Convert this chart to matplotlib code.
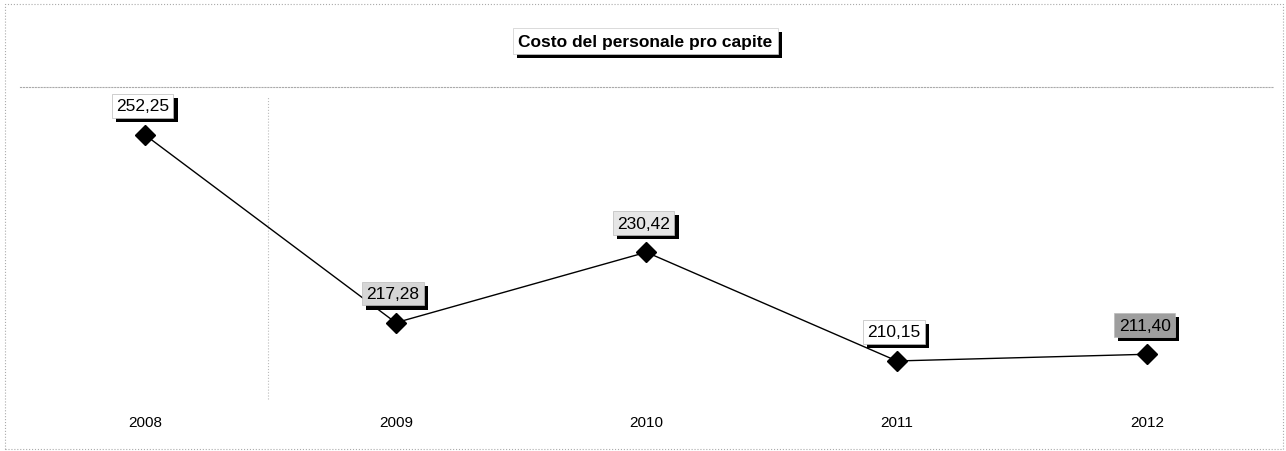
import numpy as np
import matplotlib
matplotlib.use("Agg")
import matplotlib.pyplot as plt
import matplotlib.patheffects as pe

# data
anni = ["2008", "2009", "2010", "2011", "2012"]
costo = [252.25, 217.28, 230.42, 210.15, 211.40]
etichette = ["252,25", "217,28", "230,42", "210,15", "211,40"]
sfondi = ["#ffffff", "#d6d6d6", "#e6e6e6", "#ffffff", "#9e9e9e"]

plt.rcParams['font.family'] = ['Liberation Sans', 'DejaVu Sans']

fig = plt.figure(figsize=(12.86, 4.52), dpi=100)
ax = fig.add_axes([0.0156, 0.093, 0.974, 0.712])

x = np.arange(len(anni))
ax.plot(x, costo, color="black", lw=1.0, marker="D", markersize=10.5,
        markerfacecolor="black", markeredgecolor="black", zorder=3)

shadow = [pe.SimplePatchShadow(offset=(3, -3), shadow_rgbFace="black", alpha=1.0), pe.Normal()]
for xi, yi, lab, bg in zip(x, costo, etichette, sfondi):
    t = ax.annotate(lab, (xi, yi), xytext=(-2, 21), textcoords="offset points",
                    ha="center", va="center", fontsize=12.5, color="black",
                    bbox=dict(boxstyle="square,pad=0.25", facecolor=bg,
                              edgecolor="#bbbbbb", lw=0.5), zorder=5)
    t.get_bbox_patch().set_path_effects(shadow)

ax.set_xlim(-0.5, 4.5)
ax.set_ylim(201.2, 261.2)
ax.set_xticks(x)
ax.set_xticklabels(anni, fontsize=11)
ax.tick_params(axis="x", length=0, pad=4)
ax.set_yticks([])
for s in ax.spines.values():
    s.set_visible(False)
ax.spines["top"].set_visible(True)
ax.spines["top"].set_linestyle(":")
ax.spines["top"].set_color("#aaaaaa")
ax.axvline(0.49, ymin=0.03, ymax=0.97, color="#bbbbbb", lw=0.8, ls=":")

# outer dotted frame
frame = plt.Rectangle((0.004, 0.004), 0.994, 0.985, transform=fig.transFigure,
                      fill=False, ls=":", lw=0.8, edgecolor="#aaaaaa")
fig.patches.append(frame)

tt = fig.text(0.502, 0.907, "Costo del personale pro capite", ha="center", va="center",
              fontsize=12.5, fontweight="bold",
              bbox=dict(boxstyle="square,pad=0.3", facecolor="white",
                        edgecolor="#cccccc", lw=0.5))
tt.get_bbox_patch().set_path_effects(shadow)

fig.savefig("out.png", dpi=100)
